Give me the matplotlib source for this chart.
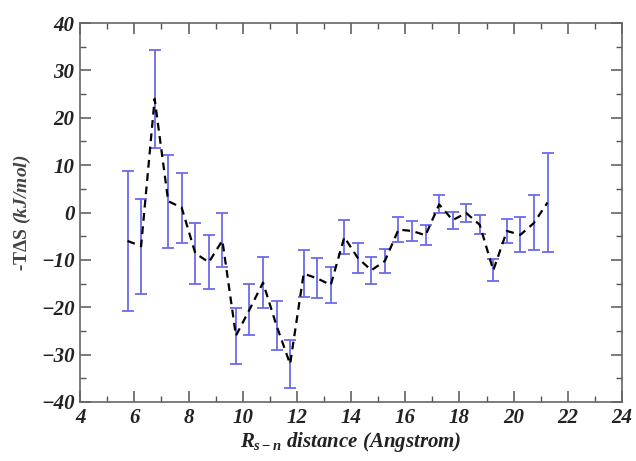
import matplotlib
matplotlib.use('Agg')
import matplotlib.pyplot as plt
from matplotlib.ticker import MultipleLocator

# data
r_dist = [5.75, 6.25, 6.75, 7.25, 7.75, 8.25, 8.75, 9.25, 9.75, 10.25,
          10.75, 11.25, 11.75, 12.25, 12.75, 13.25, 13.75, 14.25, 14.75, 15.25,
          15.75, 16.25, 16.75, 17.25, 17.75, 18.25, 18.75, 19.25, 19.75, 20.25,
          20.75, 21.25]
tds = [-6.0, -7.1, 24.0, 2.4, 1.0, -8.6, -10.5, -5.9, -26.0, -20.5,
       -14.8, -23.9, -32.0, -12.9, -13.9, -15.3, -5.2, -9.6, -12.2, -10.2,
       -3.6, -3.9, -4.8, 1.7, -1.6, -0.1, -2.6, -12.2, -3.9, -4.7,
       -2.2, 2.1]
tds_err = [14.8, 10.0, 10.3, 9.8, 7.35, 6.4, 5.7, 5.7, 5.9, 5.35,
           5.35, 5.2, 5.15, 4.95, 4.2, 3.7, 3.55, 3.15, 2.8, 2.6,
           2.55, 2.2, 2.15, 1.9, 1.8, 2.0, 2.0, 2.3, 2.6, 3.7,
           5.8, 10.5]

x_ticks = [4, 6, 8, 10, 12, 14, 16, 18, 20, 22, 24]
y_ticks = [-40, -30, -20, -10, 0, 10, 20, 30, 40]

plt.rcParams['font.family'] = ['Liberation Serif', 'DejaVu Serif']
plt.rcParams['mathtext.fontset'] = 'custom'
plt.rcParams['mathtext.rm'] = 'Liberation Serif:bold'
plt.rcParams['mathtext.it'] = 'Liberation Serif:italic:bold'
plt.rcParams['mathtext.bf'] = 'Liberation Serif:bold'

fig = plt.figure(figsize=(6.36, 4.61), dpi=100)
ax = fig.add_axes([0.126, 0.128, 0.852, 0.822])

# error bars first, dashed line on top
ax.errorbar(r_dist, tds, yerr=tds_err, fmt='none', ecolor='#6b6bea',
            elinewidth=1.3, capsize=4, capthick=1.3, zorder=2)
ax.plot(r_dist, tds, color='black', linestyle=(0, (3.5, 2.5)), linewidth=1.6, zorder=3)

ax.set_xlim(4, 24)
ax.set_ylim(-40, 40)
ax.set_xticks(x_ticks)
ax.set_yticks(y_ticks)
ax.xaxis.set_minor_locator(MultipleLocator(1))
ax.yaxis.set_minor_locator(MultipleLocator(5))
ax.tick_params(which='both', direction='in', top=True, right=True, color='#555555')
ax.tick_params(which='major', length=8, width=1.1, labelsize=15, pad=4)
ax.tick_params(which='minor', length=4, width=1.0)
for lab in ax.get_xticklabels() + ax.get_yticklabels():
    lab.set_fontweight('bold')
    lab.set_fontstyle('italic')
    lab.set_color('#222222')
for sp in ax.spines.values():
    sp.set_color('#666666')
    sp.set_linewidth(1.2)

ax.set_xlabel(r'$\mathit{R}_{\mathit{s-n}}$ distance (Angstrom)',
              fontsize=15, fontweight='bold', fontstyle='italic', color='#222222', labelpad=2)
ax.set_ylabel(r'-$\mathrm{T\Delta S}$ (kJ/mol)', fontsize=14, fontweight='bold',
              fontstyle='italic', color='#444444', labelpad=6)

fig.savefig('out.png', dpi=100)
